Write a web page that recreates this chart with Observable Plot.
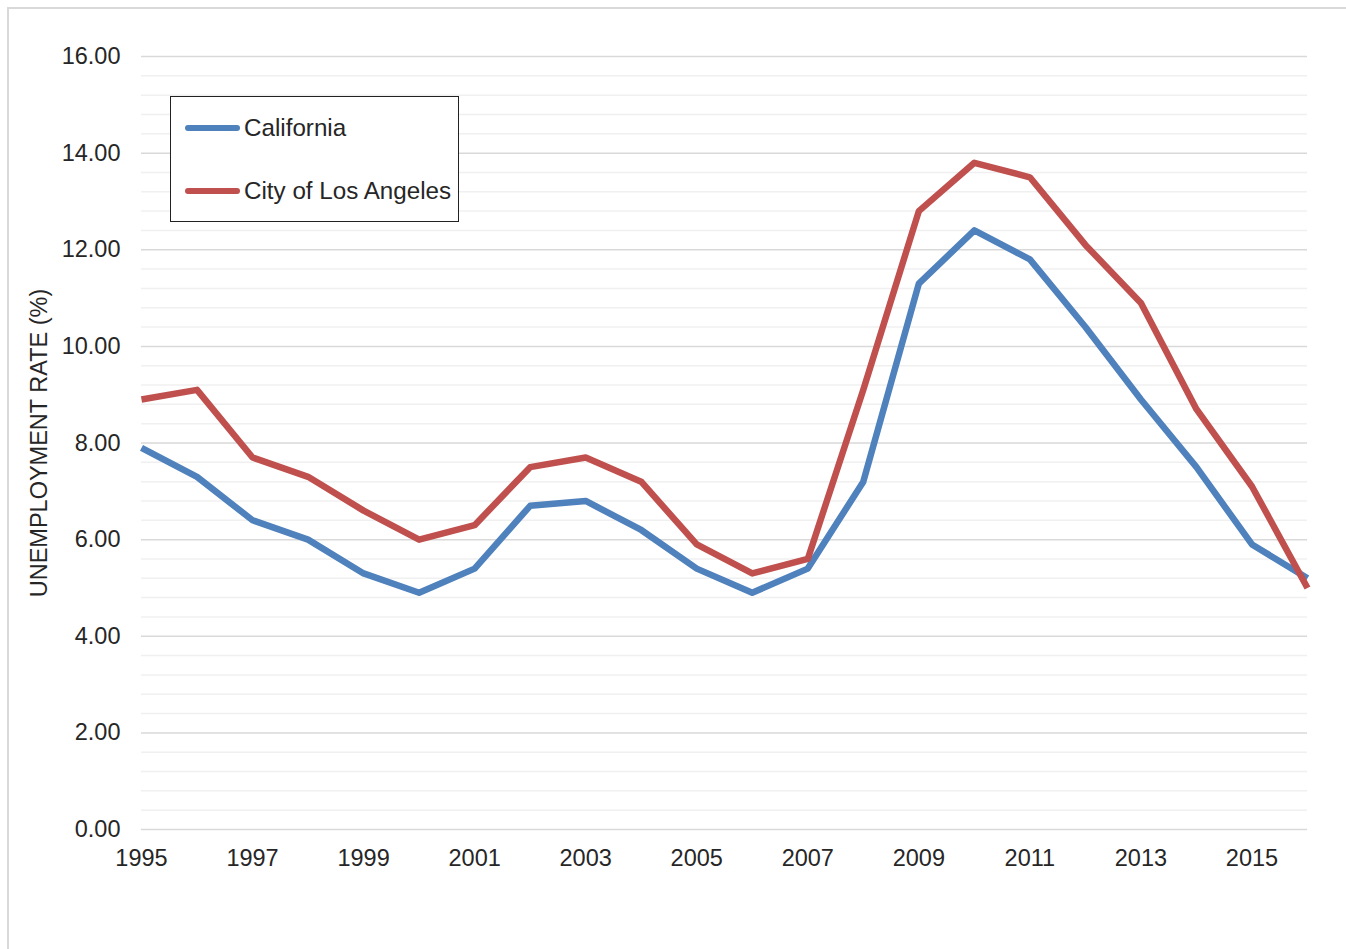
<!DOCTYPE html>
<html>
<head>
<meta charset="utf-8">
<script src="https://cdn.jsdelivr.net/npm/d3@7"></script>
<script src="https://cdn.jsdelivr.net/npm/@observablehq/plot@0.6"></script>
<style>
  html, body { margin: 0; padding: 0; background: #fff; }
  #wrap { position: relative; width: 1346px; height: 949px; overflow: hidden; font-family: "Liberation Sans", Arial, sans-serif; }
  #frame { position: absolute; left: 7px; top: 7px; width: 1400px; height: 1000px; border-left: 2px solid #d9d9d9; border-top: 2px solid #d9d9d9; box-sizing: border-box; pointer-events: none; }
  #legend { position: absolute; left: 170px; top: 96px; width: 289px; height: 126px; border: 1.5px solid #222; box-sizing: border-box; background: #fff; }
  .item { position: absolute; left: 14px; height: 28px; display: flex; align-items: center; font-size: 24.2px; color: #262626; }
  .swatch { width: 55px; height: 6.5px; border-radius: 3.5px; margin-right: 4px; }
</style>
</head>
<body>
<div id="wrap">
  <div id="chart"></div>
  <div id="frame"></div>
  <div id="legend"></div>
</div>
<script>
const years = [1995,1996,1997,1998,1999,2000,2001,2002,2003,2004,2005,2006,2007,2008,2009,2010,2011,2012,2013,2014,2015,2016];
const california = [7.9,7.3,6.4,6.0,5.3,4.9,5.4,6.7,6.8,6.2,5.4,4.9,5.4,7.2,11.3,12.4,11.8,10.4,8.9,7.5,5.9,5.2];
const losAngeles = [8.9,9.1,7.7,7.3,6.6,6.0,6.3,7.5,7.7,7.2,5.9,5.3,5.6,9.1,12.8,13.8,13.5,12.1,10.9,8.7,7.1,5.0];
const seriesNames = ["California", "City of Los Angeles"];
const seriesColors = ["#4f81bd", "#c0504d"];
const yTicks = [0, 2, 4, 6, 8, 10, 12, 14, 16];
const xTicks = [1995, 1997, 1999, 2001, 2003, 2005, 2007, 2009, 2011, 2013, 2015];

const data = [];
years.forEach((y, i) => {
  data.push({year: y, value: california[i], series: seriesNames[0]});
  data.push({year: y, value: losAngeles[i], series: seriesNames[1]});
});
const minorGrid = d3.range(0, 16.001, 0.4).map(v => +v.toFixed(2)).filter(v => Math.abs(v / 2 - Math.round(v / 2)) > 1e-6);

const chart = Plot.plot({
  width: 1346,
  height: 949,
  marginLeft: 141,
  marginRight: 39,
  marginTop: 56,
  marginBottom: 120,
  style: { fontFamily: '"Liberation Sans", Arial, sans-serif', fontSize: "23.5px", color: "#262626", background: "transparent" },
  x: { domain: [1995, 2016], label: null },
  y: { domain: [0, 16], label: null },
  color: { domain: seriesNames, range: seriesColors },
  marks: [
    Plot.ruleY(minorGrid, { stroke: "#f0f0f0", strokeWidth: 1.5 }),
    Plot.ruleY(yTicks, { stroke: "#d9d9d9", strokeWidth: 1.5 }),
    Plot.axisY({ ticks: yTicks, tickFormat: d => d.toFixed(2), tickSize: 0, tickPadding: 21, label: null, fontSize: 23.5 }),
    Plot.axisX({ ticks: xTicks, tickFormat: d => String(d), tickSize: 0, tickPadding: 20, label: null, fontSize: 23.5 }),
    Plot.text(["UNEMPLOYMENT RATE (%)"], { frameAnchor: "left", textAnchor: "middle", dx: -102, rotate: -90, fontSize: 23.5, fill: "#262626" }),
    Plot.line(data, { x: "year", y: "value", z: "series", stroke: "series", strokeWidth: 6.5, strokeLinejoin: "round", strokeLinecap: "butt" })
  ]
});
document.getElementById("chart").appendChild(chart);

const legend = document.getElementById("legend");
seriesNames.forEach((name, i) => {
  const item = document.createElement("div");
  item.className = "item";
  item.style.top = (i === 0 ? 17 : 80) + "px";
  const sw = document.createElement("div");
  sw.className = "swatch";
  sw.style.background = seriesColors[i];
  const label = document.createElement("span");
  label.textContent = name;
  item.appendChild(sw);
  item.appendChild(label);
  legend.appendChild(item);
});
</script>
</body>
</html>
